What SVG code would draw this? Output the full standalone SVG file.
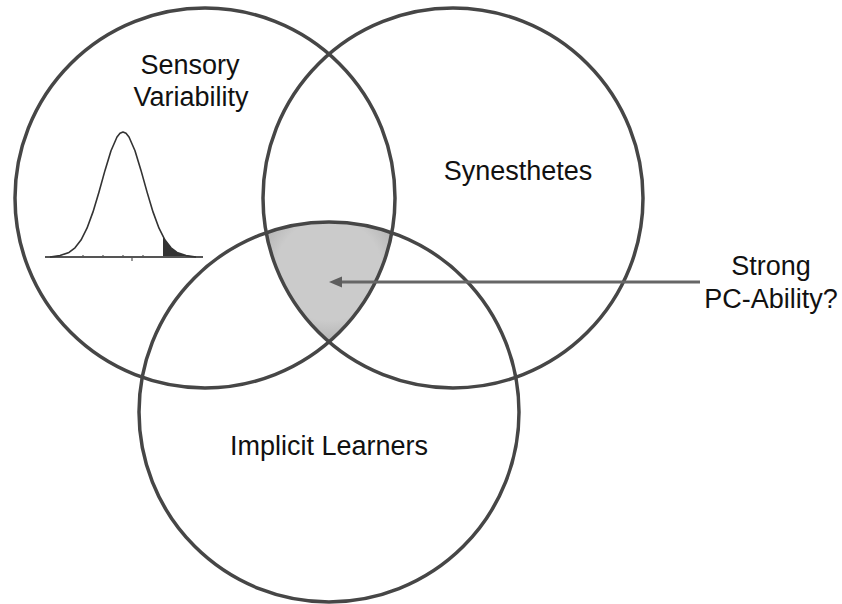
<svg xmlns="http://www.w3.org/2000/svg" width="842" height="604" viewBox="0 0 842 604">
<style>
.ring{fill:none;stroke:#464646;stroke-width:3.5}
.lbl{font-family:"Liberation Sans",Arial,sans-serif;font-size:27px;fill:#111;text-anchor:middle}
</style>
<defs>
<marker id="ah" markerWidth="13" markerHeight="12" refX="0" refY="6" orient="auto" markerUnits="userSpaceOnUse" viewBox="0 0 13 12">
<path d="M0,0.5 L13,6 L0,11.5 Z" fill="#5e5e5e"/>
</marker>
<radialGradient id="sh" cx="0.5" cy="0.4" r="0.6">
<stop offset="0.7" stop-color="#cbcbcb"/>
<stop offset="1" stop-color="#b4b4b4"/>
</radialGradient>
</defs>
<rect width="842" height="604" fill="#fff"/>
<g id="overlap">
<path d="M266.2,232.7 A190,190 0 0,1 391.8,232.7 A190,190 0 0,1 329,342 A190,190 0 0,1 266.2,232.7 Z" fill="url(#sh)"/>
</g>
<g id="sensory-variability">
<circle class="ring" cx="205" cy="198" r="190"/>
<text class="lbl" x="190" y="74">Sensory</text>
<text class="lbl" x="191" y="106">Variability</text>
<g id="distribution">
<path d="M163,257 L163,236.6 L165,240.1 L171,247.8 L177,252.4 L186,255.6 L195,256.6 L195,257 Z" fill="#333"/>
<line x1="45" y1="257" x2="203" y2="257" stroke="#555" stroke-width="2"/>
<path d="M83,255 V257 M103,255 V257 M123,255 V257 M143,255 V257 M132,257 V261" stroke="#555" stroke-width="1.2" fill="none"/>
<polyline points="50,256.95 60,255.6 69,252.4 75,247.8 81,240.1 87,228.2 93,211.9 99,191.9 105,170.4 111,150.8 117,137 120,133.3 123,132 126,133.3 129,137 135,150.8 141,170.4 147,191.9 153,211.9 159,228.2 165,240.1 171,247.8 177,252.4 186,255.6 196,256.95" fill="none" stroke="#333" stroke-width="1.6" stroke-linejoin="round"/>
</g>
</g>
<g id="synesthetes">
<circle class="ring" cx="453" cy="198" r="190"/>
<text class="lbl" x="518" y="180">Synesthetes</text>
</g>
<g id="implicit-learners">
<circle class="ring" cx="329" cy="412" r="190"/>
<text class="lbl" x="329" y="455">Implicit Learners</text>
</g>
<g id="connectors">
<line x1="700" y1="282" x2="342" y2="282" stroke="#666" stroke-width="3" marker-end="url(#ah)"/>
</g>
<g id="strong-pc-ability">
<text class="lbl" x="771" y="275">Strong</text>
<text class="lbl" x="771" y="308">PC-Ability?</text>
</g>
</svg>
